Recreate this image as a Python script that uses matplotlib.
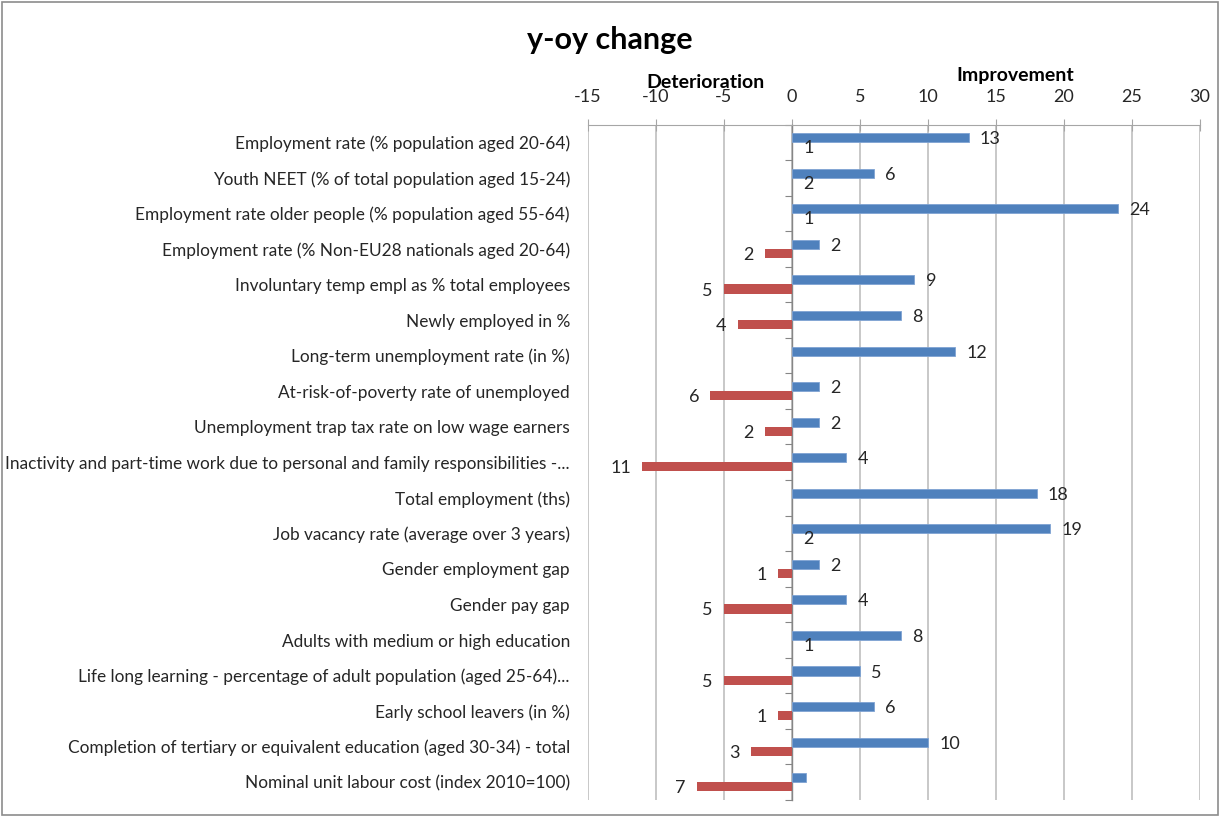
import matplotlib
matplotlib.use("Agg")
import matplotlib.pyplot as plt
from matplotlib.patches import Rectangle

plt.rcParams['font.family'] = ['Lato', 'DejaVu Sans']

categories = [
    "Employment rate (% population aged 20-64)",
    "Youth NEET (% of total population aged 15-24)",
    "Employment rate older people (% population aged 55-64)",
    "Employment rate (% Non-EU28 nationals aged 20-64)",
    "Involuntary temp empl as % total employees",
    "Newly employed in %",
    "Long-term unemployment rate (in %)",
    "At-risk-of-poverty rate of unemployed",
    "Unemployment trap tax rate on low wage earners",
    "Inactivity and part-time work due to personal and family responsibilities -...",
    "Total employment (ths)",
    "Job vacancy rate (average over 3 years)",
    "Gender employment gap",
    "Gender pay gap",
    "Adults with medium or high education",
    "Life long learning - percentage of adult population (aged 25-64)...",
    "Early school leavers (in %)",
    "Completion of tertiary or equivalent education (aged 30-34) - total",
    "Nominal unit labour cost (index 2010=100)",
]
improvement = [13, 6, 24, 2, 9, 8, 12, 2, 2, 4, 18, 19, 2, 4, 8, 5, 6, 10, 1]
improvement_labels = ["13", "6", "24", "2", "9", "8", "12", "2", "2", "4", "18", "19",
                      "2", "4", "8", "5", "6", "10", ""]
deterioration = [0, 0, 0, -2, -5, -4, 0, -6, -2, -11, 0, 0, -1, -5, 0, -5, -1, -3, -7]
deterioration_labels = ["1", "2", "1", "2", "5", "4", "", "6", "2", "11", "", "2",
                        "1", "5", "1", "5", "1", "3", "7"]
xticks = [-15, -10, -5, 0, 5, 10, 15, 20, 25, 30]

W, H = 1220, 817
fig = plt.figure(figsize=(W / 100, H / 100), dpi=100)
fig.patches.append(Rectangle((2 / W, 2 / H), 1 - 4 / W, 1 - 4 / H, transform=fig.transFigure,
                             fill=False, edgecolor='#8C8C8C', linewidth=1.2))

ax = fig.add_axes([588 / W, 1 - 800 / H, 612 / W, 675.5 / H])

blue = '#4F81BD'
red = '#C0504D'
n = len(categories)
ys = list(range(n))
bh = 0.255
ax.barh([y - bh / 2 for y in ys], improvement, height=bh, color=blue,
        edgecolor='#7FA3D3', linewidth=0.6, zorder=3)
ax.barh([y + bh / 2 for y in ys], deterioration, height=bh, color=red,
        linewidth=0, zorder=3)

ax.set_xlim(-15, 30)
ax.set_ylim(n - 0.5, -0.5)

lab_fs = 13
for y, v, lab in zip(ys, improvement, improvement_labels):
    if lab:
        ax.annotate(lab, (v, y - bh / 2), xytext=(8, 0), textcoords='offset points',
                    ha='left', va='center_baseline', fontsize=lab_fs, color='#262626')
for y, v, lab in zip(ys, deterioration, deterioration_labels):
    if lab:
        if v < 0:
            ax.annotate(lab, (v, y + bh / 2), xytext=(-8, 0), textcoords='offset points',
                        ha='right', va='center_baseline', fontsize=lab_fs, color='#262626')
        else:
            ax.annotate(lab, (v, y + bh / 2), xytext=(8, 0), textcoords='offset points',
                        ha='left', va='center_baseline', fontsize=lab_fs, color='#262626')

tr = ax.get_yaxis_transform()
for y, c in zip(ys, categories):
    ax.text(-0.0295, y, c, transform=tr, ha='right', va='center_baseline', fontsize=12.4,
            color='#262626')

ax.xaxis.set_ticks_position('top')
ax.set_xticks(xticks)
ax.set_xticklabels([str(t) for t in xticks])
ax.tick_params(axis='x', direction='inout', length=8, color='#A6A6A6', labelsize=13,
               labelcolor='#262626', pad=10)
ax.grid(axis='x', color='#BFBFBF', linewidth=1.2, zorder=0)
ax.set_axisbelow(True)

for s in ['right', 'bottom']:
    ax.spines[s].set_visible(False)
ax.spines['top'].set_color('#A6A6A6')
ax.spines['left'].set_position(('data', 0))
ax.spines['left'].set_color('#868686')
ax.spines['left'].set_linewidth(1.0)
ax.set_yticks([y - 0.5 for y in ys] + [n - 0.5])
ax.set_yticklabels([])
ax.tick_params(axis='y', direction='out', length=5, color='#868686')

fig.text(610 / W, 1 - 40 / H, "y-oy change", ha='center', va='center', fontsize=22,
         fontweight='bold', color='black')
fig.text(705 / W, 1 - 83 / H, "Deterioration", ha='center', va='center', fontsize=14,
         fontweight='bold', color='black')
fig.text(1015 / W, 1 - 76 / H, "Improvement", ha='center', va='center', fontsize=14,
         fontweight='bold', color='black')

fig.savefig("out.png", dpi=100)
